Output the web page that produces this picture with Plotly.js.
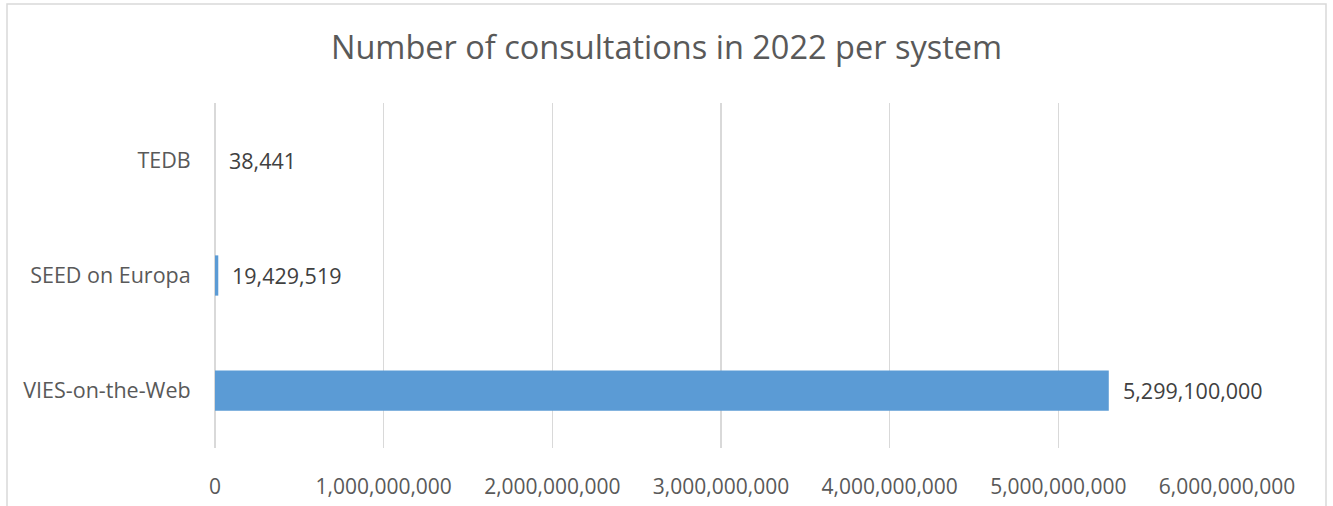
<!DOCTYPE html>
<html>
<head>
<meta charset="utf-8">
<script src="https://cdn.plot.ly/plotly-3.0.1.min.js"></script>
<style>html,body{margin:0;padding:0;background:#fff;}#chart{width:1333px;height:506px;}</style>
</head>
<body>
<div id="chart"></div>
<script>
const categories = ["VIES-on-the-Web", "SEED on Europa", "TEDB"];
const values = [5299100000, 19429519, 38441];
const tickValues = [0, 1000000000, 2000000000, 3000000000, 4000000000, 5000000000, 6000000000];
const tickLabels = ["0", "1,000,000,000", "2,000,000,000", "3,000,000,000", "4,000,000,000", "5,000,000,000", "6,000,000,000"];
const titleText = "Number of consultations in 2022 per system";

const fmt = v => v.toLocaleString("en-US");
const FONT = "Open Sans, sans-serif";

const trace = {
  type: "bar",
  orientation: "h",
  y: categories,
  x: values,
  marker: {color: "#5b9bd5"},
  width: 0.35,
  hoverinfo: "none"
};

const annotations = values.map((v, i) => ({
  x: v, y: categories[i], xref: "x", yref: "y",
  text: fmt(v), showarrow: false, xanchor: "left", yanchor: "middle",
  xshift: 12, font: {family: FONT, size: 21.5, color: "#404040"}
}));

const L = 215, R = 106, T = 103, B = 58, W = 1333, H = 506;
const pw = W - L - R, ph = H - T - B;

const layout = {
  width: W, height: H,
  margin: {l: L, r: R, t: T, b: B, pad: 0},
  paper_bgcolor: "#fff", plot_bgcolor: "#fff",
  showlegend: false,
  title: {text: titleText, x: 0.5, xref: "container", xanchor: "center", y: 1 - 48/H, yanchor: "middle", yref: "container",
          font: {family: FONT, size: 32.5, color: "#595959"}},
  xaxis: {
    range: [0, 6000000000], tickmode: "array", tickvals: tickValues, ticktext: tickLabels,
    showgrid: true, gridcolor: "#d9d9d9", gridwidth: 1.3, zeroline: true, zerolinecolor: "#d9d9d9", zerolinewidth: 1.3,
    showline: false, ticks: "outside", ticklen: 20, tickcolor: "rgba(0,0,0,0)",
    tickfont: {family: FONT, size: 21, color: "#595959"}, fixedrange: true
  },
  yaxis: {
    categoryorder: "array", categoryarray: categories,
    showgrid: false, zeroline: false, showline: false,
    ticks: "outside", ticklen: 19, tickcolor: "rgba(0,0,0,0)",
    tickfont: {family: FONT, size: 21.5, color: "#595959"}, fixedrange: true
  },
  annotations: annotations,
  shapes: [{
    type: "rect", xref: "paper", yref: "paper", layer: "below",
    x0: (7 - L) / pw, x1: (1326 - L) / pw,
    y0: -(B + 20) / ph, y1: 1 + (T - 4) / ph,
    line: {color: "#d9d9d9", width: 1.5}, fillcolor: "rgba(0,0,0,0)"
  }]
};

Plotly.newPlot("chart", [trace], layout, {displayModeBar: false, staticPlot: true});
</script>
</body>
</html>
